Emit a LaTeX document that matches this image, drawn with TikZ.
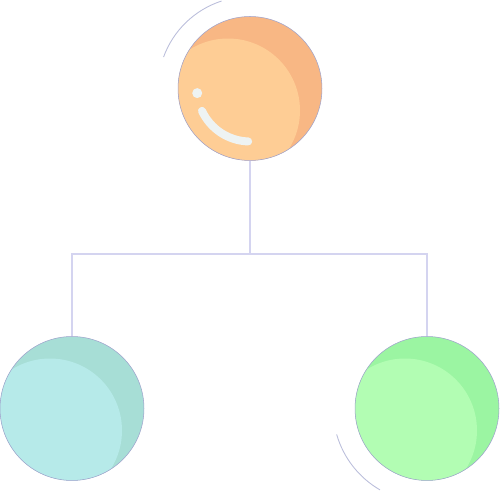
\documentclass[tikz,border=0pt]{standalone}
\usepackage{tikz}

\definecolor{rim}{HTML}{9EA2CC}
\definecolor{wire}{HTML}{D4D4F0}
\definecolor{orangeD}{HTML}{F8B784}
\definecolor{orangeL}{HTML}{FECD95}
\definecolor{tealD}{HTML}{A7DED6}
\definecolor{tealL}{HTML}{B6EAE9}
\definecolor{greenD}{HTML}{9BF5A2}
\definecolor{greenL}{HTML}{B2FDB3}
\definecolor{shine}{HTML}{EEF3F3}

\tikzset{
    ball/.style 2 args={circle, draw=rim, line width=0.3pt, fill=#1,
        minimum size=2.88cm, inner sep=0pt,
        path picture={\fill[#2] ([shift={(-0.44cm,-0.44cm)}]path picture bounding box.center) circle (1.44cm);}},
    link/.style={draw=wire, line width=0.6pt},
    swoosh/.style={draw=rim!70, line width=0.5pt}
}

\begin{document}
\begin{tikzpicture}[x=0.02cm,y=0.02cm]
    \useasboundingbox (0,0) rectangle (500,500);
    %\draw[very thin,color=gray] (0,0) grid[step=50] (500,500);
    \node[ball={orangeD}{orangeL}] (top) at (250,411.5) {};
    \node[ball={tealD}{tealL}] (left) at (72,91.5) {};
    \node[ball={greenD}{greenL}] (right) at (427,91.5) {};
    \coordinate (fork) at (250,246);

    \draw[link] (top) -- (fork);
    \draw[link] (left) |- (fork) -| (right);

    % highlight on the top ball
    \fill[shine] ([shift={(185:1.06cm)}]top.center) circle (0.1cm);
    \draw[shine, line width=0.16cm, line cap=round]
        ([shift={(205:1.06cm)}]top.center) arc (205:268:1.06cm);

    % thin arcs round the balls
    \begin{scope}
        \clip (0,0) rectangle (500,500);
        \draw[swoosh] ([shift={(160:1.84cm)}]top.center) arc (160:108:1.84cm);
        \draw[swoosh] ([shift={(196:1.88cm)}]right.center) arc (196:240:1.88cm);
    \end{scope}
\end{tikzpicture}
\end{document}
